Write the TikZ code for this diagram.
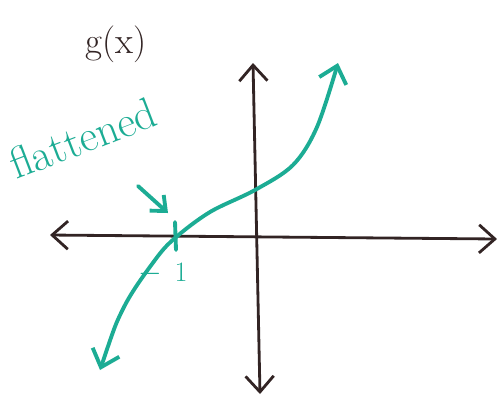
\documentclass[tikz,border=0pt]{standalone}
\usetikzlibrary{arrows.meta}
\definecolor{teal1}{RGB}{28,172,148}
\definecolor{ink}{RGB}{50,36,36}
\begin{document}
\begin{tikzpicture}[x=0.02cm,y=-0.02cm,
  axis/.style={draw=ink,line width=1.6pt,line cap=round,{Straight Barb[length=9pt,width=16pt]}-{Straight Barb[length=9pt,width=16pt]}},
  curve/.style={draw=teal1,line width=2.2pt,line cap=round},
  hand/.style={inner sep=0pt}]
\useasboundingbox (0,0) rectangle (499,397);
% axes
\coordinate (xl) at (50,235);
\coordinate (xr) at (497,239);
\coordinate (yt) at (253,63);
\coordinate (yb) at (260,394);
\draw[axis] (xl) -- (xr);
\draw[axis] (yb) -- (yt);
% curve
\draw[curve,{Straight Barb[length=9pt,width=16pt]}-{Straight Barb[length=9pt,width=16pt]}]
  plot[smooth,tension=0.55] coordinates {(100,370) (124,307) (155,260) (175,238) (210,212) (255,190) (293,165) (317,127) (338,63)};
% tick
\coordinate (t1) at (175,222);
\coordinate (t2) at (176,250);
\draw[curve] (t1) -- (t2);
\node[hand,text=teal1,font=\fontsize{16}{18}\selectfont] (m1) at (163,273) {$-$\hspace{7pt}1};
% label g(x)
\node[hand,text=ink,font=\fontsize{21}{23}\selectfont] (g) at (116,44) {g(x)};
% flattened
\node[hand,text=teal1,font=\fontsize{25}{27}\selectfont,rotate=21,anchor=base west] (fl) at (16,180) {f{}lattened};
\coordinate (a1) at (138,186);
\coordinate (a2) at (168,213);
\draw[curve,-{Straight Barb[length=7pt,width=12pt]}] (a1) -- (a2);
\end{tikzpicture}
\end{document}
